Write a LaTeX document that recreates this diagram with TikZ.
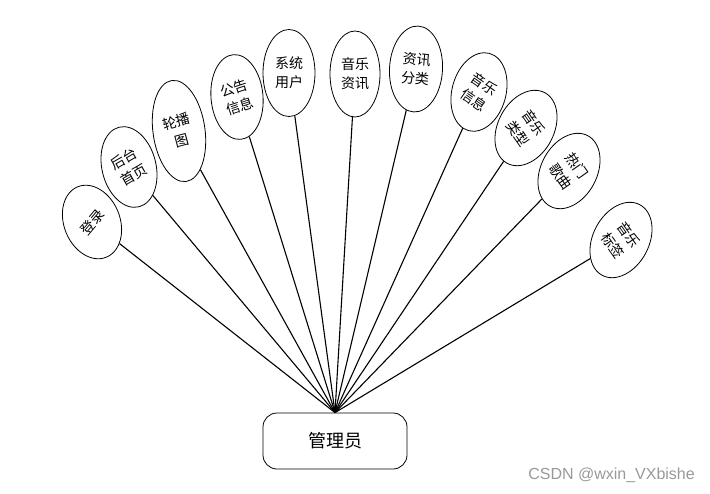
\documentclass[tikz,border=0pt]{standalone}
\usepackage{fontspec}
\setmainfont{Noto Sans CJK SC}
\setsansfont{Liberation Sans}
\usetikzlibrary{shapes.geometric}
\begin{document}
\begin{tikzpicture}[x=1pt,y=-1pt,
  ell/.style={draw, ellipse, line width=0.8pt, inner sep=0pt, minimum width=54pt, minimum height=82pt},
  lbl/.style={font=\fontsize{14}{19}\selectfont, align=center, inner sep=0pt},
  conn/.style={line width=1.1pt}]
\useasboundingbox (0,0) rectangle (710,493);

\node[draw, rounded corners=14pt, minimum width=144pt, minimum height=56pt, line width=0.8pt,
      font=\fontsize{18}{18}\selectfont] (box) at (335,441) {管理员};

\node[ell, rotate=22, minimum width=56pt, minimum height=76pt] (e1) at (92,222) {};
\node[lbl, rotate=50] (t1) at (92,222) {登录};

\node[ell, rotate=14, minimum width=54pt, minimum height=82pt] (e2) at (129,167) {};
\node[lbl, rotate=30] (t2) at (129,167) {后台\\首页};

\node[ell, rotate=8, minimum width=52pt, minimum height=102pt] (e3) at (179,131) {};
\node[lbl, rotate=15] (t3) at (179,131) {轮播\\图};

\node[ell, rotate=5, minimum width=52pt, minimum height=85pt] (e4) at (237,97) {};
\node[lbl, rotate=18] (t4) at (237,97) {公告\\信息};

\node[ell, minimum width=52pt, minimum height=87pt] (e5) at (289,73) {};
\node[lbl] (t5) at (289,73) {系统\\用户};

\node[ell, minimum width=50pt, minimum height=86pt] (e6) at (355,74) {};
\node[lbl] (t6) at (355,74) {音乐\\资讯};

\node[ell, rotate=-3, minimum width=53pt, minimum height=86pt] (e7) at (416,69) {};
\node[lbl, rotate=-5] (t7) at (416,69) {资讯\\分类};

\node[ell, rotate=-15, minimum width=54pt, minimum height=80pt] (e8) at (479,92) {};
\node[lbl, rotate=-35] (t8) at (479,92) {音乐\\信息};

\node[ell, rotate=-28, minimum width=56pt, minimum height=80pt] (e9) at (526,128) {};
\node[lbl, rotate=-55] (t9) at (526,128) {音乐\\类型};

\node[ell, rotate=-28, minimum width=56pt, minimum height=80pt] (e10) at (569,171) {};
\node[lbl, rotate=-55] (t10) at (569,171) {热门\\歌曲};

\node[ell, rotate=-28, minimum width=56pt, minimum height=80pt] (e11) at (621,240) {};
\node[lbl, rotate=-55] (t11) at (621,240) {音乐\\标签};

\foreach \i in {1,...,11} {\draw[conn] (e\i) -- (box.north);}

\node[font=\sffamily\fontsize{16}{16}\selectfont, text=gray!80, anchor=east, inner sep=0pt] (wm) at (695,475) {CSDN @wxin\_VXbishe};
\end{tikzpicture}
\end{document}
